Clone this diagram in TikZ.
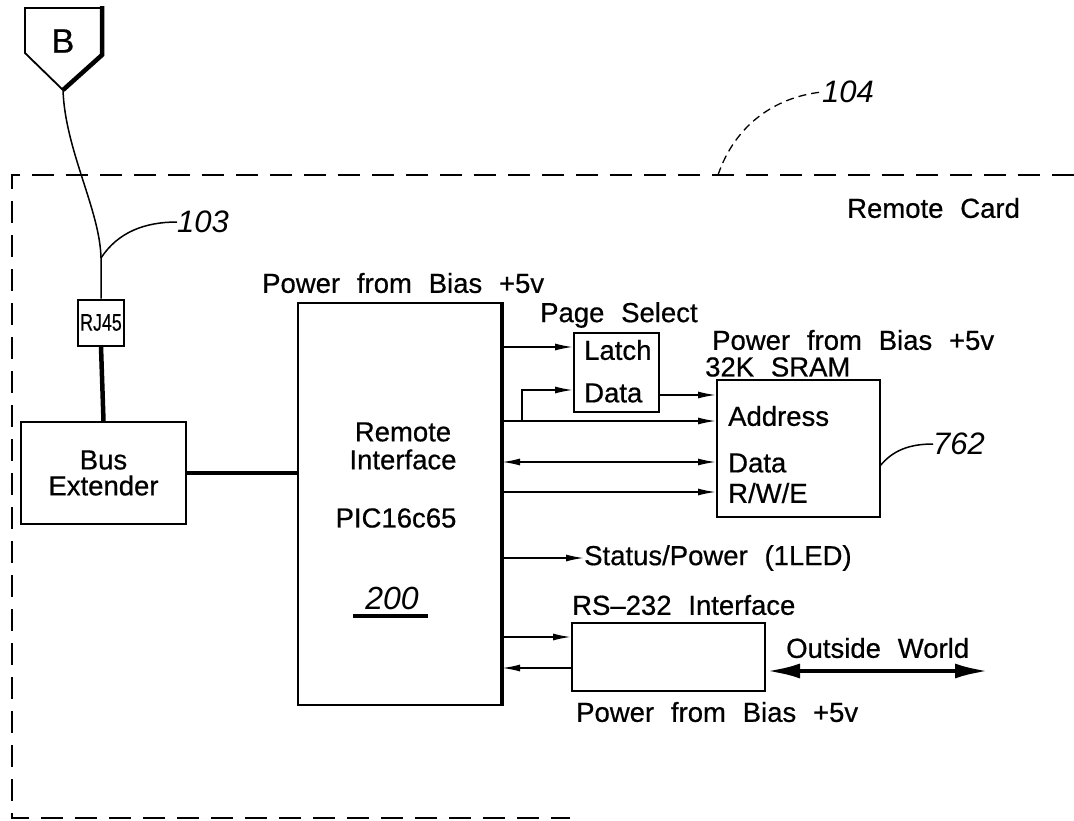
\documentclass[tikz,border=0pt]{standalone}
\usepackage{fontspec}
\setmainfont{Liberation Sans}[WordSpace=2.2]
\newfontfamily\df{Liberation Sans}[WordSpace=2.2, FakeBold=0.6]
\usetikzlibrary{arrows.meta}
\begin{document}
\begin{tikzpicture}[x=1pt,y=-1pt,
  box/.style={draw, line width=2pt, inner sep=0pt},
  txt/.style={font=\df\fontsize{27.5}{30}\selectfont, inner sep=0pt, anchor=west},
  ctr/.style={font=\df\fontsize{27.5}{30}\selectfont, inner sep=0pt, align=center},
  refnum/.style={font=\fontsize{31}{33}\selectfont\itshape, inner sep=0pt, anchor=west},
  sig/.style={line width=1.6pt, -{Latex[length=18pt,width=7pt]}},
  sigg/.style={line width=1.6pt, {Latex[length=18pt,width=7pt]}-{Latex[length=18pt,width=7pt]}},
  thin/.style={line width=1.5pt},
  bus/.style={line width=4.5pt},
  border/.style={line width=1.3pt, dash pattern=on 22pt off 12pt}
]
\useasboundingbox (0,0) rectangle (1074,820);

% card boundary
\draw[border] (1074,175) -- (12,175) -- (12,818) -- (570,818);
\node[txt] (card) at (847,208) {Remote Card};
\node[refnum] (n104) at (822,92) {104};
\coordinate (c104) at (718,175);
\draw[border, dash pattern=on 8pt off 5pt] (c104) .. controls (735,125) and (775,97) .. (n104.west);

% connector B
\coordinate (Btip) at (63,90);
\draw[line width=1.8pt, line join=miter] (Btip) -- (25,53) -- (25,8) -- (102,8);
\draw[line width=4.5pt, line join=miter] (102,6) -- (102,55) -- (Btip);
\node[font=\df\fontsize{34}{36}\selectfont, inner sep=0pt] (Bl) at (63,41) {B};

% RJ45 and Bus Extender
\node[box, minimum width=46, minimum height=46] (rj) at (101,322.5) {};
\node[ctr, font=\df\fontsize{24}{27}\selectfont] (rjl) at (rj.center) {\scalebox{0.74}[1]{RJ45}};
\node[box, minimum width=165, minimum height=102] (be) at (103.5,473) {};
\node[ctr] (bel) at (be.center) {Bus\\[-4pt]Extender};

\coordinate (w1) at (101,258);
\draw[thin] (Btip) .. controls (65,150) and (100,210) .. (w1) -- (rj.north);
\node[refnum] (n103) at (177,222) {103};
\draw[thin] (w1) .. controls (118,232) and (145,222) .. (n103.west);
\draw[bus] (rj.south) -- (be.north);

% Remote interface
\node[box, minimum width=203, minimum height=402] (ri) at (399.5,504) {};
\draw[bus] (ri.north east) -- (ri.south east);
\node[txt] (p1) at (262,283) {Power from Bias +5v};
\node[ctr] (ril) at (403,446) {Remote\\[-2pt]Interface};
\node[ctr] (pic) at (396,518) {PIC16c65};
\node[font=\fontsize{32}{34}\selectfont\itshape, inner sep=0pt] (n200) at (392,598) {200};
\draw[line width=3.2pt] (353,616) -- (428,616);
\draw[bus] (be.east) -- (ri.west |- be.east);

% latch
\node[box, minimum width=85, minimum height=79] (la) at (616.5,372.5) {};
\node[txt] (ps) at (540,315) {Page Select};
\node[txt] (lal) at (584,350) {Latch};
\node[txt] (lad) at (584,393) {Data};

% SRAM
\node[box, minimum width=163, minimum height=137] (sr) at (798.5,448.5) {};
\node[txt] (p2) at (712,340) {Power from Bias +5v};
\node[txt] (sram) at (705,367) {32K\ SRAM};
\node[txt] (sa) at (728,416) {Address};
\node[txt] (sd) at (728,463) {Data};
\node[txt] (sw) at (728,493) {R/W/E};
\node[refnum] (n762) at (933,444) {762};
\draw[thin] (880,466) .. controls (893,450) and (910,444) .. (n762.west);

% helper rows
\coordinate (y1) at (0,347);
\coordinate (y2) at (0,390);
\coordinate (y3) at (0,395);
\coordinate (y4) at (0,421);
\coordinate (y5) at (0,462);
\coordinate (y6) at (0,492);
\coordinate (y7) at (0,558);
\coordinate (y8) at (0,637);
\coordinate (y9) at (0,668);
\coordinate (y10) at (0,671);
\coordinate (br) at (522,421);

\draw[sig] (ri.east |- y1) -- (la.west |- y1);
\draw[sig] (br) |- (la.west |- y2);
\draw[sig] (la.east |- y3) -- (sr.west |- y3);
\draw[sig] (ri.east |- y4) -- (sr.west |- y4);
\draw[sigg] (ri.east |- y5) -- (sr.west |- y5);
\draw[sig] (ri.east |- y6) -- (sr.west |- y6);

% status
\node[txt] (st) at (584,558) {Status/Power (1LED)};
\draw[sig] (ri.east |- y7) -- (st.west);

% RS-232
\node[box, minimum width=193, minimum height=68] (rs) at (668.5,657) {};
\node[txt] (rsl) at (572,605) {RS{\char"2013}232 Interface};
\node[txt] (p3) at (576,712) {Power from Bias +5v};
\draw[sig] (ri.east |- y8) -- (rs.west |- y8);
\draw[sig] (rs.west |- y9) -- (ri.east |- y9);
\node[txt] (ow) at (786,648) {Outside World};
\coordinate (owend) at (989,671);
\draw[line width=4.5pt, {Latex[length=34pt,width=15pt]}-{Latex[length=34pt,width=15pt]}] (rs.east |- y10) -- (owend);
\end{tikzpicture}
\end{document}
